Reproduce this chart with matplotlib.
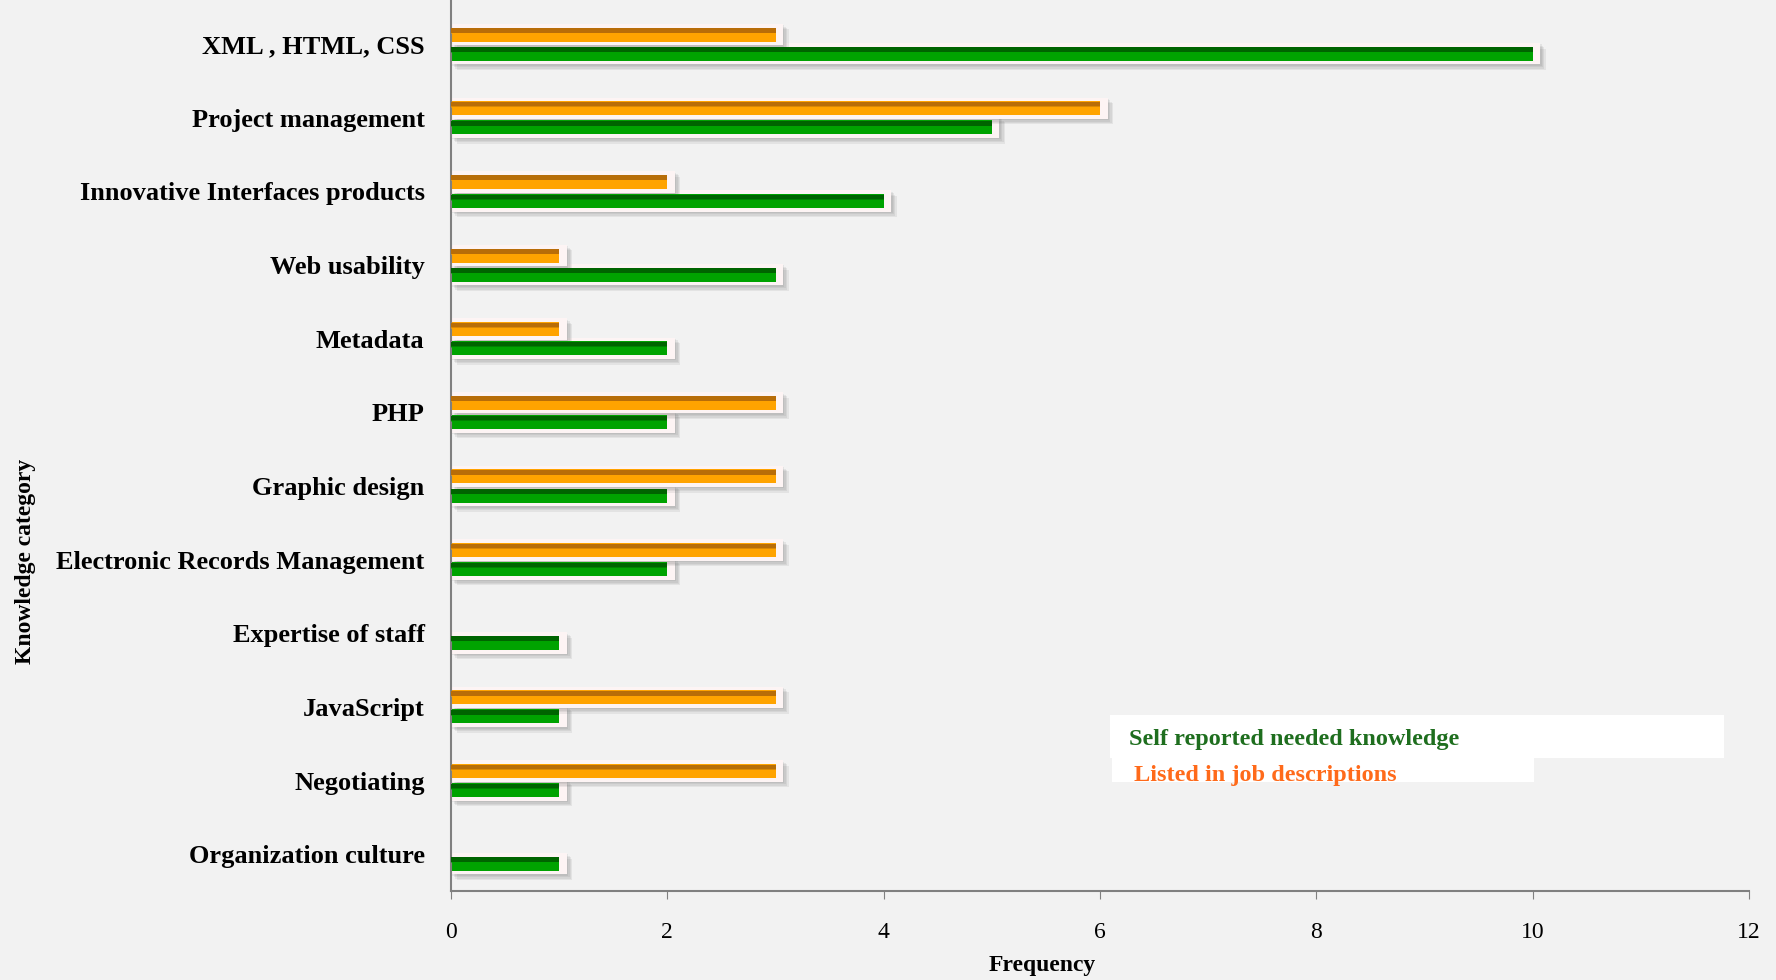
import matplotlib
matplotlib.use("Agg")
import matplotlib.pyplot as plt
import matplotlib.patheffects as pe
from matplotlib.patches import Rectangle
import numpy as np

categories = [
    "XML , HTML, CSS",
    "Project management",
    "Innovative Interfaces products",
    "Web usability",
    "Metadata",
    "PHP",
    "Graphic design",
    "Electronic Records Management",
    "Expertise of staff",
    "JavaScript",
    "Negotiating",
    "Organization culture",
]
self_reported = [10, 5, 4, 3, 2, 2, 2, 2, 1, 1, 1, 1]
job_listed = [3, 6, 2, 1, 1, 3, 3, 3, 0, 3, 3, 0]
xticks = [0, 2, 4, 6, 8, 10, 12]

plt.rcParams['font.family'] = ['Liberation Serif', 'DejaVu Serif']
bg = '#f2f2f2'

fig = plt.figure(figsize=(17.76, 9.8), dpi=100, facecolor=bg)
ax = fig.add_axes([451 / 1776, 89 / 980, 1298 / 1776, 891 / 980])
ax.set_facecolor(bg)

y = np.arange(len(categories))
h = 0.19
off = 0.13
# frame padding in data units
pad_x = 0.07
pad_y = 0.1

# soft drop shadow built from a few faint offset copies
shadow_fx = [
    pe.SimplePatchShadow(offset=(o, -o), shadow_rgbFace='#606060', alpha=0.1)
    for o in (4, 3, 2, 1)
] + [pe.Normal()]


def draw_frame(ypos, vals):
    vals = np.asarray(vals, dtype=float)
    keep = vals > 0
    ax.barh(ypos[keep], vals[keep] + pad_x, height=h + pad_y,
            color='#fdf4f4', edgecolor='none', path_effects=shadow_fx,
            zorder=1)


def draw_series(ypos, vals, base, dark):
    vals = np.asarray(vals, dtype=float)
    keep = vals > 0
    yy, vv = ypos[keep], vals[keep]
    ax.barh(yy, vv, height=h, color=base, edgecolor='none', zorder=2)
    # darker bevel along the upper edge
    ax.barh(yy - h * 0.28, vv, height=h * 0.36, color=dark,
            edgecolor='none', zorder=3)
    ax.barh(yy - h * 0.08, vv, height=h * 0.1, color=base,
            edgecolor='none', alpha=0.5, zorder=3)


draw_frame(y + off, self_reported)
draw_frame(y - off, job_listed)
draw_series(y - off, job_listed, '#ffa300', '#b86d08')
draw_series(y + off, self_reported, '#00a300', '#006400')

ax.set_ylim(11.5, -0.6)
ax.set_xlim(0, 12)
ax.set_xticks(xticks)
ax.set_xticklabels([str(t) for t in xticks], fontsize=17)
ax.set_yticks(y)
ax.set_yticklabels(categories, fontsize=19, fontweight='bold')
ax.tick_params(axis='y', length=0, pad=19)
ax.tick_params(axis='x', direction='out', length=6, color='#808080', pad=16)

for s in ['top', 'right']:
    ax.spines[s].set_visible(False)
for s in ['left', 'bottom']:
    ax.spines[s].set_color('#808080')
    ax.spines[s].set_linewidth(1.5)

ax.set_xlabel('Frequency', fontsize=17, fontweight='bold')
ax.xaxis.set_label_coords((1042 - 451) / 1298, -0.072)
ax.set_ylabel('Knowledge category', fontsize=17, fontweight='bold')
ax.yaxis.set_label_coords((36 - 451) / 1298, (891 - 561) / 891)

# legend boxes
fig.add_artist(Rectangle((1110 / 1776, 1 - 758 / 980), 614 / 1776, 43 / 980,
                         transform=fig.transFigure, facecolor='white',
                         edgecolor='none', zorder=5))
fig.add_artist(Rectangle((1112 / 1776, 1 - 782 / 980), 422 / 1776, 24 / 980,
                         transform=fig.transFigure, facecolor='white',
                         edgecolor='none', zorder=5))
fig.text(1129 / 1776, 1 - 739 / 980, 'Self reported needed knowledge',
         color='#1e6e1e', fontsize=17.5, fontweight='bold', va='center',
         zorder=6)
fig.text(1134 / 1776, 1 - 775 / 980, 'Listed in job descriptions',
         color='#ff6a1a', fontsize=17.5, fontweight='bold', va='center',
         zorder=6)

fig.savefig('out.png', dpi=100, facecolor=bg)
